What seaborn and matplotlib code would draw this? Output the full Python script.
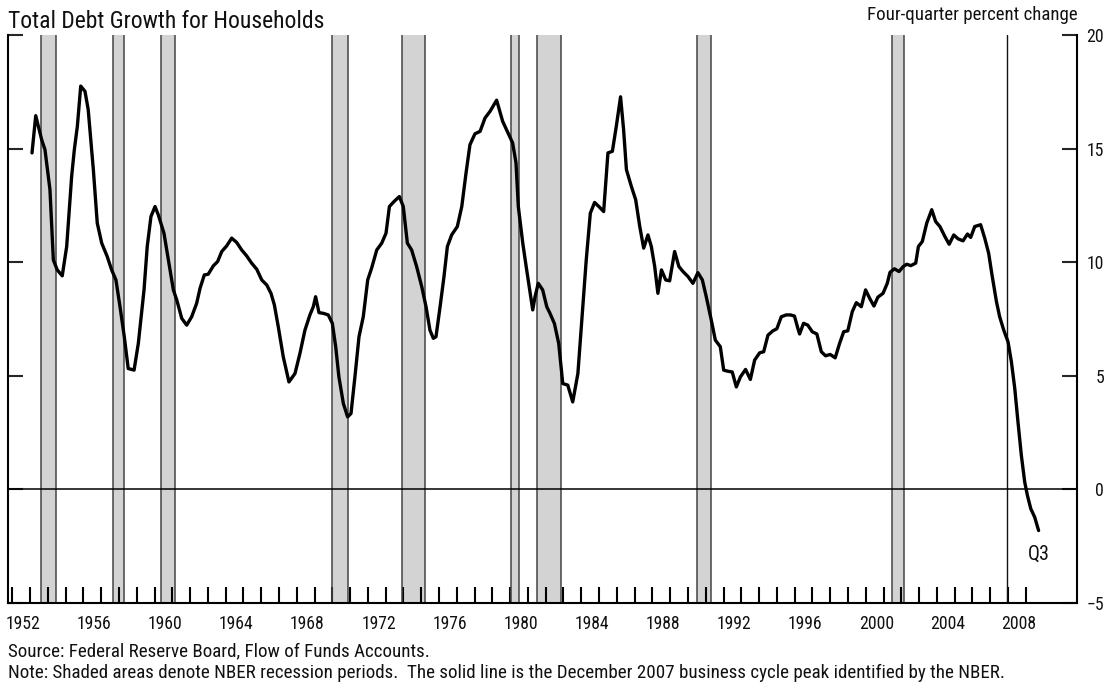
import os
import matplotlib
matplotlib.use('Agg')
import matplotlib.pyplot as plt
import seaborn as sns
import pandas as pd
from matplotlib import font_manager
from matplotlib.font_manager import FontProperties
from matplotlib.ticker import FixedLocator, NullFormatter, FixedFormatter

# ---------------- data ----------------
years = [
    1953.11, 1953.32, 1953.65, 1953.84, 1954.12, 1954.31, 1954.53, 1954.81,
    1955.06, 1955.34, 1955.49, 1955.66, 1955.85, 1956.09, 1956.27, 1956.56,
    1956.78, 1957.03, 1957.34, 1957.59, 1957.83, 1958.06, 1958.30, 1958.52,
    1958.85, 1959.09, 1959.41, 1959.59, 1959.80, 1960.03, 1960.21, 1960.53,
    1960.81, 1961.06, 1961.25, 1961.53, 1961.81, 1962.09, 1962.37, 1962.56,
    1962.80, 1963.02, 1963.31, 1963.55, 1963.78, 1964.06, 1964.34, 1964.62,
    1964.90, 1965.18, 1965.46, 1965.75, 1966.03, 1966.31, 1966.55, 1966.74,
    1966.96, 1967.24, 1967.56, 1967.90, 1968.18, 1968.46, 1968.74, 1968.93,
    1969.06, 1969.25, 1969.49, 1969.77, 1970.00, 1970.19, 1970.37, 1970.62,
    1970.86, 1971.05, 1971.27, 1971.50, 1971.74, 1971.99, 1972.21, 1972.50,
    1972.78, 1973.02, 1973.21, 1973.47, 1973.77, 1973.99, 1974.22, 1974.46,
    1974.74, 1975.03, 1975.27, 1975.49, 1975.68, 1975.83, 1976.06, 1976.28,
    1976.47, 1976.71, 1977.03, 1977.28, 1977.52, 1977.74, 1978.02, 1978.31,
    1978.59, 1978.87, 1979.24, 1979.58, 1979.84, 1980.14, 1980.33, 1980.46,
    1980.71, 1980.93, 1981.27, 1981.40, 1981.58, 1981.83, 1982.06, 1982.24,
    1982.49, 1982.73, 1982.96, 1983.24, 1983.52, 1983.81, 1984.09, 1984.28,
    1984.51, 1984.75, 1984.99, 1985.26, 1985.50, 1985.75, 1985.97, 1986.21,
    1986.38, 1986.54, 1986.82, 1987.06, 1987.29, 1987.51, 1987.75, 1987.94,
    1988.13, 1988.31, 1988.51, 1988.75, 1988.97, 1989.25, 1989.49, 1989.72,
    1990.00, 1990.28, 1990.56, 1990.81, 1991.03, 1991.31, 1991.54, 1991.82,
    1992.01, 1992.25, 1992.49, 1992.72, 1992.95, 1993.24, 1993.51, 1993.75,
    1994.03, 1994.26, 1994.50, 1994.78, 1995.00, 1995.25, 1995.53, 1995.76,
    1995.99, 1996.18, 1996.28, 1996.50, 1996.74, 1996.99, 1997.25, 1997.50,
    1997.74, 1998.00, 1998.28, 1998.53, 1998.76, 1998.99, 1999.24, 1999.47,
    1999.75, 1999.99, 2000.22, 2000.46, 2000.68, 2000.97, 2001.21, 2001.36,
    2001.61, 2001.87, 2002.11, 2002.30, 2002.54, 2002.81, 2002.96, 2003.18,
    2003.43, 2003.71, 2003.93, 2004.17, 2004.45, 2004.69, 2004.95, 2005.19,
    2005.47, 2005.72, 2005.90, 2006.13, 2006.46, 2006.69, 2006.91, 2007.10,
    2007.35, 2007.53, 2007.76, 2008.00, 2008.19, 2008.38, 2008.56, 2008.75,
    2008.94, 2009.09, 2009.28, 2009.50, 2009.72,
]
growth = [
    14.81, 16.45, 15.40, 14.95, 13.19, 10.10, 9.66, 9.40,
    10.69, 13.78, 14.95, 15.98, 17.75, 17.52, 16.72, 14.07,
    11.72, 10.84, 10.25, 9.66, 9.22, 8.04, 6.72, 5.32,
    5.25, 6.43, 8.78, 10.69, 12.01, 12.45, 12.09, 11.28,
    9.96, 8.78, 8.34, 7.53, 7.23, 7.60, 8.19, 8.85,
    9.44, 9.47, 9.84, 10.03, 10.47, 10.72, 11.06, 10.87,
    10.54, 10.28, 9.96, 9.69, 9.22, 9.00, 8.63, 8.12,
    7.16, 5.84, 4.73, 5.10, 5.99, 7.01, 7.68, 8.04,
    8.48, 7.78, 7.75, 7.68, 7.31, 6.28, 4.95, 3.78,
    3.19, 3.34, 4.95, 6.72, 7.60, 9.22, 9.74, 10.54,
    10.84, 11.28, 12.45, 12.67, 12.89, 12.45, 10.84, 10.54,
    9.81, 8.92, 8.04, 7.01, 6.65, 6.72, 8.04, 9.37,
    10.69, 11.20, 11.57, 12.45, 13.93, 15.17, 15.65, 15.76,
    16.35, 16.64, 17.13, 16.20, 15.76, 15.25, 14.37, 12.45,
    10.84, 9.66, 7.90, 8.48, 9.07, 8.78, 8.04, 7.75,
    7.30, 6.43, 4.66, 4.59, 3.85, 5.10, 8.04, 10.10,
    12.16, 12.63, 12.45, 12.23, 14.81, 14.88, 15.98, 17.28,
    15.84, 14.07, 13.33, 12.75, 11.57, 10.62, 11.20, 10.69,
    9.81, 8.63, 9.66, 9.22, 9.18, 10.47, 9.81, 9.59,
    9.37, 9.07, 9.54, 9.22, 8.48, 7.46, 6.57, 6.28,
    5.25, 5.20, 5.17, 4.51, 4.95, 5.28, 4.84, 5.69,
    6.01, 6.06, 6.79, 6.98, 7.07, 7.60, 7.68, 7.68,
    7.63, 7.09, 6.84, 7.31, 7.23, 6.94, 6.84, 6.06,
    5.88, 5.94, 5.79, 6.43, 6.94, 6.98, 7.82, 8.22,
    8.04, 8.78, 8.41, 8.07, 8.46, 8.63, 9.07, 9.55,
    9.71, 9.59, 9.81, 9.91, 9.85, 9.96, 10.69, 10.91,
    11.72, 12.31, 11.79, 11.57, 11.13, 10.79, 11.20, 11.03,
    10.94, 11.24, 11.09, 11.57, 11.65, 11.06, 10.40, 9.44,
    8.26, 7.60, 7.01, 6.50, 5.62, 4.44, 2.97, 1.50,
    0.32, -0.26, -0.85, -1.22, -1.81,
]
rec_start = [1953.60, 1957.68, 1960.35, 1969.98, 1973.90, 1980.03, 1981.53, 1990.49, 2001.50]
rec_end = [1954.44, 1958.28, 1961.15, 1970.88, 1975.21, 1980.51, 1982.85, 1991.28, 2002.17]
peak_line = 2007.93
tick_years = list(range(1952, 2010))
label_years = list(range(1952, 2009, 4))
y_ticks = [-5, 0, 5, 10, 15, 20]

title = "Total Debt Growth for Households"
unit_label = "Four-quarter percent change"
source_text = "Source: Federal Reserve Board, Flow of Funds Accounts."
note_text = ("Note: Shaded areas denote NBER recession periods.  The solid line is the "
             "December 2007 business cycle peak identified by the NBER.")
end_label = "Q3"

# ---------------- fonts: look for a narrow sans face ----------------
sns.set_style("white")


def pick_narrow_font():
    prefs = ["liberation sans narrow", "arial narrow", "roboto condensed",
             "noto sans condensed", "open sans condensed", "dejavu sans condensed",
             "noto sans", "open sans", "dejavu sans", "roboto"]
    bad = ["bold", "italic", "oblique", "light", "black", "medium", "thin",
           "semibold", "extrabold", "heavy", "semicondensed", "extracondensed",
           "ultracondensed"]
    best = None
    for f in font_manager.fontManager.ttflist:
        nm = f.name.lower()
        fn = os.path.basename(f.fname).lower().replace("-", "").replace("_", "")
        if nm not in prefs or f.style != "normal":
            continue
        if any(b in fn for b in bad):
            continue
        narrow = ("narrow" in nm or "condensed" in nm or "narrow" in fn
                  or "condensed" in fn or f.stretch == "condensed")
        if not narrow:
            continue
        rank = prefs.index(nm)
        if best is None or rank < best[0]:
            best = (rank, f.fname)
    return best[1] if best else None


narrow_path = pick_narrow_font()
if narrow_path:
    base_fp = FontProperties(fname=narrow_path)
else:
    base_fp = FontProperties(family=["Liberation Sans", "DejaVu Sans"])
plt.rcParams["font.family"] = ["Liberation Sans", "DejaVu Sans"]

W, H = 1113, 689
fig = plt.figure(figsize=(W / 100, H / 100), dpi=100)
renderer = fig.canvas.get_renderer()


def fp_size(size):
    p = base_fp.copy()
    p.set_size(size)
    return p


def fit_size(txt, target_px, base=14.0):
    t = fig.text(0, 0, txt, fontproperties=fp_size(base))
    w = t.get_window_extent(renderer).width
    t.remove()
    return base * target_px / w


title_size = fit_size(title, 319)
unit_size = fit_size(unit_label, 212)
source_size = fit_size(note_text, 1007)
tick_size = fit_size("1952", 35)
q_size = fit_size(end_label, 22)

ax = fig.add_axes([8 / W, 1 - 603 / H, 1069 / W, 568 / H])

for s, e in zip(rec_start, rec_end):
    ax.axvspan(s, e, facecolor="#d3d3d3", edgecolor="none", zorder=0)
    ax.axvline(s, color="#444444", lw=1.1, zorder=1)
    ax.axvline(e, color="#444444", lw=1.1, zorder=1)
ax.axvline(peak_line, color="#111111", lw=1.0, zorder=1)
ax.axhline(0, color="black", lw=1.1, zorder=1)

df = pd.DataFrame({"year": years, "growth": growth})
sns.lineplot(data=df, x="year", y="growth", color="black", linewidth=2.4,
             ax=ax, zorder=3, sort=False)
ax.set_xlabel("")
ax.set_ylabel("")

ax.set_xlim(1951.76, 2011.88)
ax.set_ylim(-5, 20)

# x ticks: yearly inward ticks, labels every 4 years centred in the year
ax.xaxis.set_major_locator(FixedLocator(tick_years))
ax.xaxis.set_major_formatter(NullFormatter())
ax.xaxis.set_minor_locator(FixedLocator([y + 0.6 for y in label_years]))
ax.xaxis.set_minor_formatter(FixedFormatter([str(y) for y in label_years]))
ax.tick_params(axis="x", which="major", direction="in", length=11.5, width=1.5,
               color="black", bottom=True, top=False)
ax.tick_params(axis="x", which="minor", length=0, pad=8.5, labelcolor="#111111")

# y ticks on both sides, labels on the right
ax.yaxis.set_major_locator(FixedLocator(y_ticks))
ax.yaxis.set_minor_locator(FixedLocator([y_ticks[-1]]))
ax.yaxis.set_minor_formatter(NullFormatter())
ax.tick_params(axis="y", which="major", direction="in", length=11, width=1.5,
               left=True, right=True, labelleft=False, labelright=True,
               pad=19.5, labelcolor="#111111")
ax.tick_params(axis="y", which="minor", direction="in", length=22, width=1.5,
               left=True, right=True)

ax.spines["top"].set_visible(False)
for sp in ["left", "right", "bottom"]:
    ax.spines[sp].set_linewidth(1.5)
    ax.spines[sp].set_color("black")
ax.grid(False)

for lab in ax.get_xticklabels(minor=True):
    lab.set_fontproperties(fp_size(tick_size))
for lab in ax.get_yticklabels():
    lab.set_fontproperties(fp_size(tick_size))
    lab.set_horizontalalignment("right")

ax.text(years[-1], -2.45, end_label, ha="center", va="top",
        fontproperties=fp_size(q_size), color="#111111")

fig.text(8 / W, 1 - 28 / H, title, ha="left", va="baseline",
         fontproperties=fp_size(title_size), color="#111111")
fig.text(1078 / W, 1 - 20 / H, unit_label, ha="right", va="baseline",
         fontproperties=fp_size(unit_size), color="#111111")
fig.text(8 / W, 1 - 656 / H, source_text, ha="left", va="baseline",
         fontproperties=fp_size(source_size), color="#111111")
fig.text(8 / W, 1 - 678 / H, note_text, ha="left", va="baseline",
         fontproperties=fp_size(source_size), color="#111111")

fig.savefig("out.png", dpi=100)
